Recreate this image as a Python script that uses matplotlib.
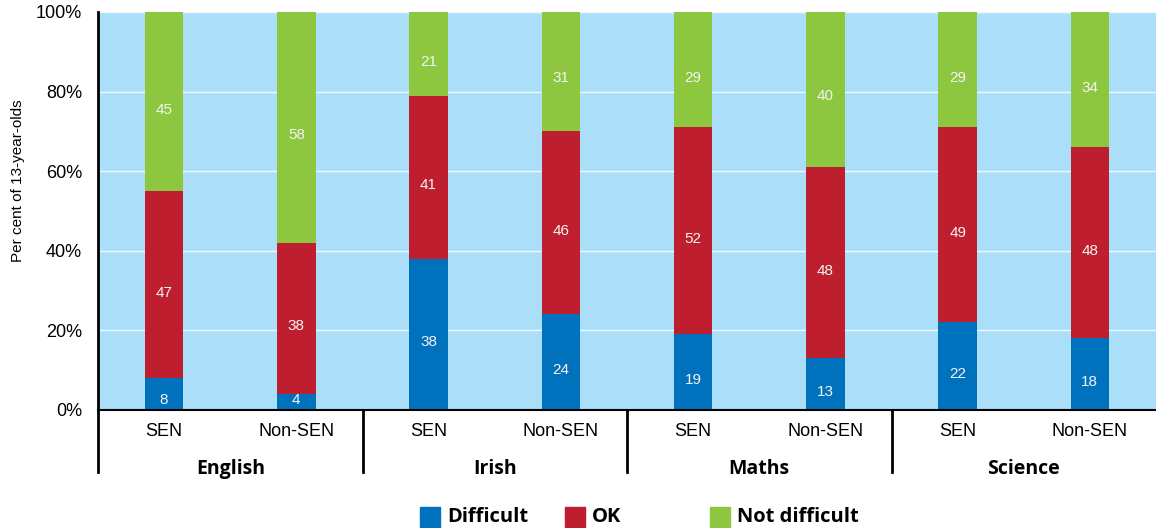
import numpy as np
import matplotlib
matplotlib.use("Agg")
import matplotlib.pyplot as plt
from matplotlib.patches import Rectangle

# donnees : % d'eleves de 13 ans par matiere et par groupe
subjects = ["English", "Irish", "Maths", "Science"]
groups = ["SEN", "Non-SEN"]
difficult = [8, 4, 38, 24, 19, 13, 22, 18]
ok = [47, 38, 41, 46, 52, 48, 49, 48]
not_difficult = [45, 58, 21, 31, 29, 40, 29, 34]
series_names = ["Difficult", "OK", "Not difficult"]
colours = ["#0071bc", "#be1e2d", "#8dc63f"]

plt.rcParams["font.family"] = ["Liberation Sans", "DejaVu Sans"]
fig = plt.figure(figsize=(11.56, 5.28), dpi=100)
ax = fig.add_axes([98 / 1156, 118 / 528, 1 - 98 / 1156, 398 / 528])
ax.set_facecolor("#abdff9")

x = np.arange(len(difficult))
w = 0.29
bottom = np.zeros(len(x))
for vals, col in zip([difficult, ok, not_difficult], colours):
    vals = np.array(vals, dtype=float)
    ax.bar(x, vals, w, bottom=bottom, color=col, zorder=2)
    for xi, b, v in zip(x, bottom, vals):
        ymid = max(b + v / 2 - 2, b + 2.5)
        ax.text(xi, ymid, "%d" % v, ha="center", va="center",
                color="#f4f4f4", fontsize=11, zorder=3)
    bottom += vals

ax.set_ylim(0, 100)
ax.set_xlim(-0.5, len(x) - 0.5)
ax.set_yticks(np.arange(0, 101, 20))
ax.set_yticklabels(["%d%%" % t for t in range(0, 101, 20)], fontsize=13)
ax.tick_params(axis="y", length=0, pad=11.5)
ax.yaxis.grid(True, color="white", lw=1, alpha=0.8, zorder=1)
ax.set_axisbelow(True)
ax.set_ylabel("Per cent of 13-year-olds", fontsize=11)
ax.yaxis.set_label_coords(-0.069, 0.575)

ax.set_xticks(x)
ax.set_xticklabels(groups * len(subjects), fontsize=13)
ax.tick_params(axis="x", length=0, pad=9)

for s in ["top", "right"]:
    ax.spines[s].set_visible(False)
ax.spines["left"].set_linewidth(2)
ax.spines["bottom"].set_linewidth(1.5)

# separateurs et noms de matieres sous l'axe
tr = ax.get_xaxis_transform()
for k in range(len(subjects)):
    xs = 2 * k - 0.5
    ax.plot([xs, xs], [0, -0.156], transform=tr, color="black", lw=2,
            clip_on=False)
    ax.text(2 * k + 0.5, -0.147, subjects[k], transform=tr, ha="center",
            va="center", fontsize=14, fontweight="bold",
            family=["Open Sans", "DejaVu Sans"])

# legende
for i, (name, col) in enumerate(zip(series_names, colours)):
    x0 = (420 + 145 * i) / 1156
    fig.patches.append(Rectangle((x0, 1 / 528), 20 / 1156, 20 / 528,
                                 transform=fig.transFigure, color=col))
    fig.text(x0 + 27 / 1156, 11 / 528, name, ha="left", va="center",
             fontsize=14.5, fontweight="bold",
             family=["Open Sans", "DejaVu Sans"])

fig.savefig("out.png", dpi=100)
